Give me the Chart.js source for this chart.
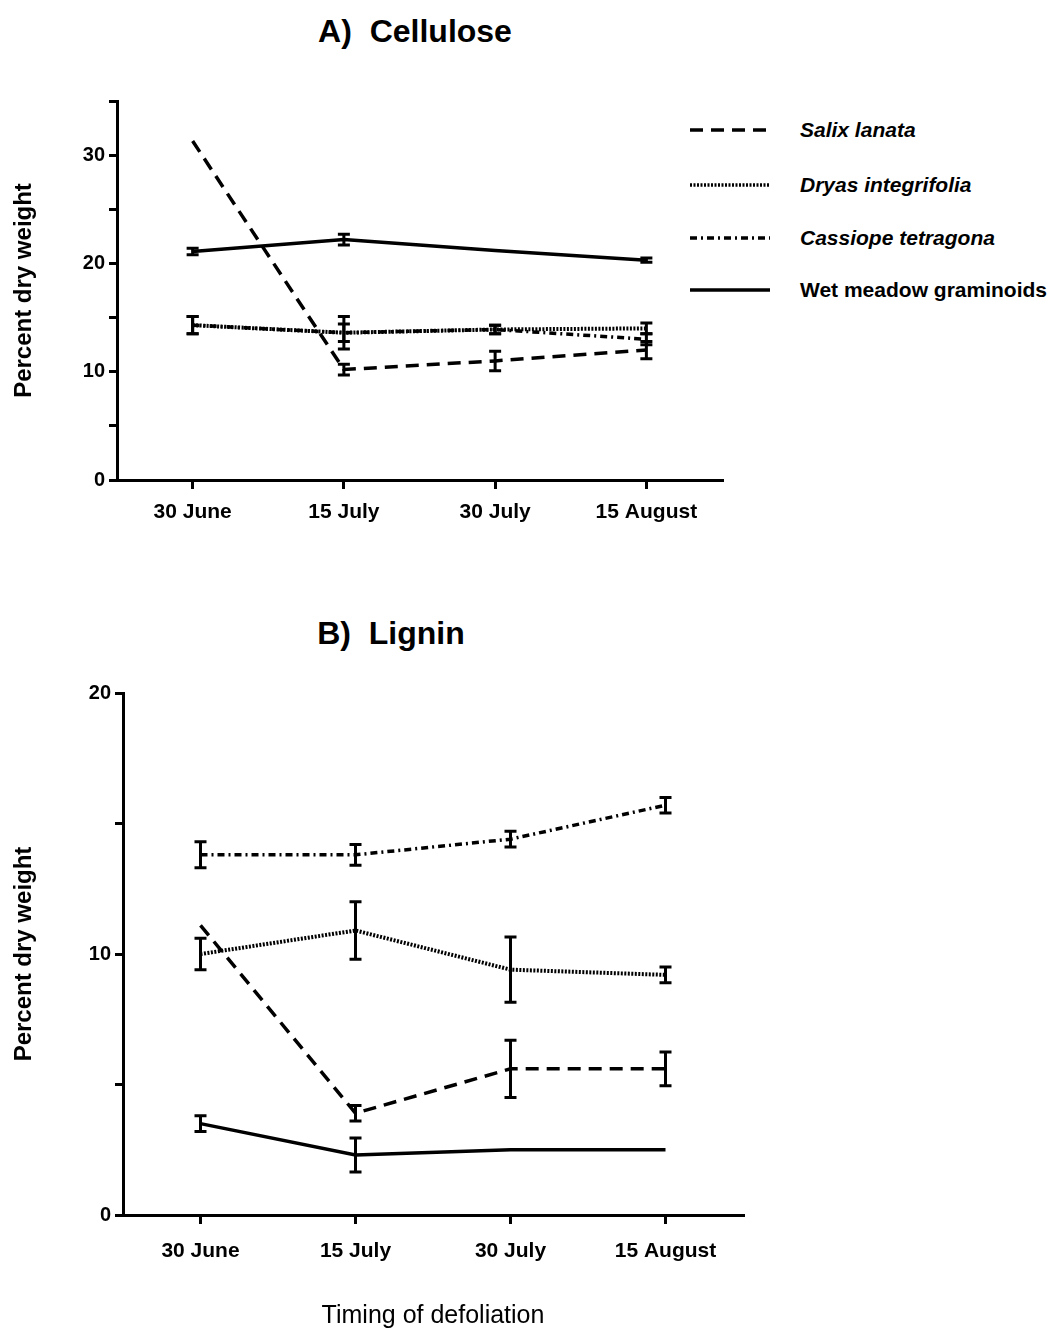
<!DOCTYPE html>
<html>
<head>
<meta charset="utf-8">
<script src="https://cdn.jsdelivr.net/npm/chart.js@4.4.1/dist/chart.umd.min.js"></script>
<style>
  body { margin: 0; background: #fff; width: 1051px; height: 1331px; position: relative; overflow: hidden;
         font-family: 'Liberation Sans', Arial, sans-serif; color: #000; }
  .box { position: absolute; }
  .ttl { position: absolute; font-weight: bold; font-size: 32px; transform: translate(-50%, -50%); white-space: nowrap; }
  .leg { position: absolute; font-weight: bold; font-size: 21px; white-space: nowrap; transform: translateY(-50%); }
  .leg.it { font-style: italic; }
</style>
</head>
<body>
<div class="ttl" style="left:415px; top:31px;">A)&nbsp; Cellulose</div>
<div class="ttl" style="left:391px; top:633px;">B)&nbsp; Lignin</div>

<svg class="box" style="left:680px; top:110px;" width="100" height="200">
  <line x1="10" x2="90" y1="20" y2="20" stroke="#000" stroke-width="3.5" stroke-dasharray="13 8"/>
  <line x1="10" x2="90" y1="75" y2="75" stroke="#000" stroke-width="3.5" stroke-dasharray="2 1.5"/>
  <line x1="10" x2="90" y1="128" y2="128" stroke="#000" stroke-width="3.5" stroke-dasharray="7 4 2 4"/>
  <line x1="10" x2="90" y1="180" y2="180" stroke="#000" stroke-width="3.5"/>
</svg>
<div class="leg it" style="left:800px; top:130px;">Salix lanata</div>
<div class="leg it" style="left:800px; top:185px;">Dryas integrifolia</div>
<div class="leg it" style="left:800px; top:238px;">Cassiope tetragona</div>
<div class="leg" style="left:800px; top:290px;">Wet meadow graminoids</div>

<div class="box" style="left:0; top:80px; width:760px; height:470px;"><canvas id="cellulose"></canvas></div>
<div class="box" style="left:0; top:660px; width:780px; height:671px;"><canvas id="lignin"></canvas></div>

<script>
const categories = ['30 June', '15 July', '30 July', '15 August'];

// A) Cellulose, percent dry weight (mean and +/- error)
const salixA = [31.3, 10.2, 11.0, 12.0];
const salixAErr = [0, 0.5, 0.9, 0.8];
const dryasA = [14.3, 13.6, 13.9, 14.0];
const dryasAErr = [0.8, 1.5, 0.4, 0.5];
const cassiopeA = [14.3, 13.6, 13.9, 13.0];
const cassiopeAErr = [0.8, 0.8, 0.4, 0.5];
const graminoidsA = [21.1, 22.2, 21.2, 20.3];
const graminoidsAErr = [0.3, 0.5, 0, 0.2];

// B) Lignin
const salixB = [11.1, 3.9, 5.6, 5.6];
const salixBErr = [0, 0.3, 1.1, 0.65];
const dryasB = [10.0, 10.9, 9.4, 9.2];
const dryasBErr = [0.6, 1.1, 1.25, 0.3];
const cassiopeB = [13.8, 13.8, 14.4, 15.7];
const cassiopeBErr = [0.5, 0.4, 0.3, 0.3];
const graminoidsB = [3.5, 2.3, 2.5, 2.5];
const graminoidsBErr = [0.3, 0.65, 0, 0];

const yTicksA = [0, 10, 20, 30];
const yTicksB = [0, 10, 20];

// draws the vertical error bars with caps
const errorBars = {
    id: 'errorBars',
    afterDatasetsDraw(chart) {
        const ctx = chart.ctx;
        const x = chart.scales.x, y = chart.scales.y;
        ctx.save();
        ctx.strokeStyle = '#000';
        ctx.lineWidth = 3;
        ctx.setLineDash([]);
        chart.data.datasets.forEach(ds => {
            (ds.errors || []).forEach((e, i) => {
                if (!e) return;
                const px = x.getPixelForValue(i);
                const top = y.getPixelForValue(ds.data[i] + e);
                const bot = y.getPixelForValue(ds.data[i] - e);
                ctx.beginPath();
                ctx.moveTo(px, top); ctx.lineTo(px, bot);
                ctx.moveTo(px - 6, top); ctx.lineTo(px + 6, top);
                ctx.moveTo(px - 6, bot); ctx.lineTo(px + 6, bot);
                ctx.stroke();
            });
        });
        ctx.restore();
    }
};

function series(data, errors, dash, width) {
    return {
        data: data,
        errors: errors,
        borderColor: '#000',
        borderWidth: width,
        borderDash: dash,
        pointRadius: 0,
        fill: false,
        tension: 0
    };
}

function makeChart(id, sets, yMax, labelTicks, yWidth, xHeight, xPad, pad, withXTitle) {
    return new Chart(document.getElementById(id), {
        type: 'line',
        data: { labels: categories, datasets: sets },
        options: {
            responsive: true,
            maintainAspectRatio: false,
            animation: false,
            layout: { padding: pad },
            plugins: { legend: { display: false }, tooltip: { enabled: false } },
            scales: {
                x: {
                    offset: true,
                    ticks: { color: '#000', font: { size: 21, weight: 'bold' }, padding: xPad, maxRotation: 0 },
                    grid: { drawOnChartArea: false, drawTicks: true, tickLength: 9, color: '#000', lineWidth: 3 },
                    border: { display: true, color: '#000', width: 3 },
                    title: {
                        display: withXTitle,
                        text: 'Timing of defoliation',
                        color: '#000',
                        font: { size: 25 },
                        padding: { top: 2, bottom: 0 }
                    },
                    afterFit: s => { s.height = xHeight; }
                },
                y: {
                    min: 0,
                    max: yMax,
                    ticks: {
                        stepSize: 5,
                        color: '#000',
                        font: { size: 20, weight: 'bold' },
                        padding: 4,
                        callback: v => labelTicks.includes(v) ? v : ''
                    },
                    grid: { drawOnChartArea: false, drawTicks: true, tickLength: 8, color: '#000', lineWidth: 3 },
                    border: { display: true, color: '#000', width: 3 },
                    title: {
                        display: true,
                        text: 'Percent dry weight',
                        color: '#000',
                        font: { size: 24, weight: 'bold' },
                        padding: { top: 10, bottom: 0 }
                    },
                    afterFit: s => { s.width = yWidth; }
                }
            }
        },
        plugins: [errorBars]
    });
}

makeChart('cellulose', [
    series(salixA, salixAErr, [13, 8], 3.5),
    series(dryasA, dryasAErr, [2, 1.5], 4),
    series(cassiopeA, cassiopeAErr, [7, 4, 2, 4], 3.5),
    series(graminoidsA, graminoidsAErr, [], 3.5)
], 35, yTicksA, 117, 70, 11, { top: 21, right: 38, left: 0, bottom: 0 }, false);

makeChart('lignin', [
    series(salixB, salixBErr, [13, 8], 3.5),
    series(dryasB, dryasBErr, [2, 1.5], 4),
    series(cassiopeB, cassiopeBErr, [7, 4, 2, 4], 3.5),
    series(graminoidsB, graminoidsBErr, [], 3.5)
], 20, yTicksB, 123, 116, 15, { top: 33, right: 37, left: 0, bottom: 0 }, true);
</script>
</body>
</html>
